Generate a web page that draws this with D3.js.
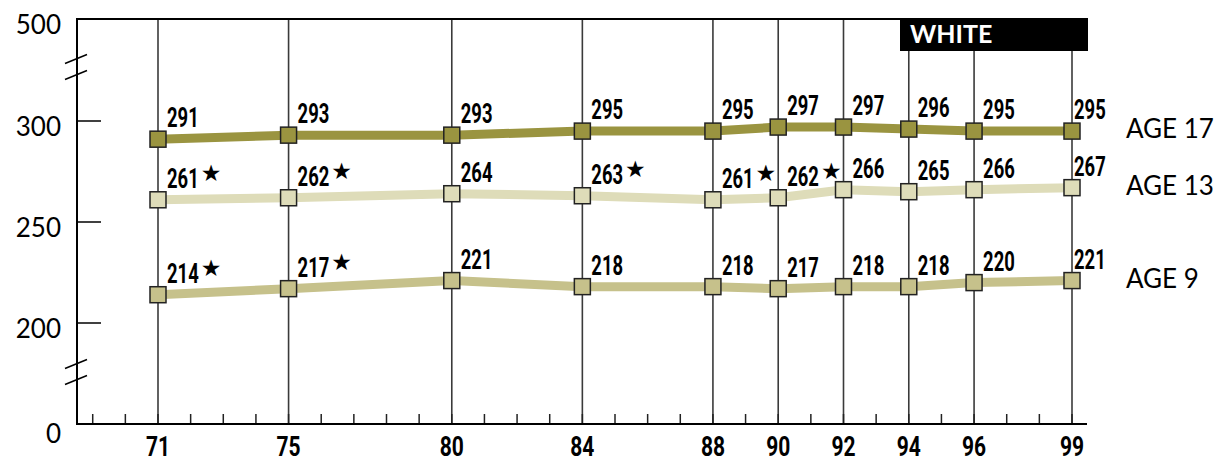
<!DOCTYPE html>
<html><head><meta charset="utf-8">
<script src="https://cdn.jsdelivr.net/npm/d3@7"></script>
<style>body{margin:0;background:#fff}</style></head>
<body><svg id="c" width="1221" height="463"></svg>
<script>
const years=[71,75,80,84,88,90,92,94,96,99];
const age17=[291,293,293,295,295,297,297,296,295,295];
const age13=[261,262,264,263,261,262,266,265,266,267];
const age9=[214,217,221,218,218,217,218,218,220,221];
const star17=[];
const star13=[71,75,84,88,90];
const star9=[71,75];
const seriesNames=["AGE 17","AGE 13","AGE 9"];
const yTickLabels=[0,200,250,300,500];
const yTickMarks=[200,250,300];
const minorYears=d3.range(69,100);
const title="WHITE";

const svg=d3.select("#c");
const x=d3.scaleLinear().domain([71,99]).range([158,1072]);
const y=d3.scaleLinear().domain([0,200,300,500]).range([424,323,121,19]);
const cond='Roboto,"DejaVu Sans",sans-serif';
const geo='Lato,"Noto Sans",sans-serif';

const series=[
 {name:seriesNames[0],vals:age17,stars:star17,fill:"#9a9440",line:"#9a9440"},
 {name:seriesNames[1],vals:age13,stars:star13,fill:"#dedcb9",line:"#dedcb9"},
 {name:seriesNames[2],vals:age9,stars:star9,fill:"#c6c18b",line:"#c6c18b"}
];

// grid verticals
svg.append("g").selectAll("line").data(years).join("line")
 .attr("x1",d=>x(d)).attr("x2",d=>x(d))
 .attr("y1",y(500)).attr("y2",y(0))
 .attr("stroke","#3a3a3a").attr("stroke-width",1.6);

// x axis minor ticks
svg.append("g").selectAll("line").data(minorYears).join("line")
 .attr("x1",d=>x(d)).attr("x2",d=>x(d)).attr("y1",y(0)).attr("y2",y(0)-10)
 .attr("stroke","#222").attr("stroke-width",1.5);
svg.append("line").attr("x1",76).attr("x2",1087).attr("y1",y(0)).attr("y2",y(0))
 .attr("stroke","#000").attr("stroke-width",2);
svg.append("g").selectAll("text").data(years).join("text")
 .attr("transform",d=>`translate(${x(d)},456) scale(0.75,1)`)
 .attr("text-anchor","middle")
 .attr("font-family",cond).attr("font-weight","bold").attr("font-size",28)
 .text(d=>d);

// y axis
svg.append("line").attr("x1",77).attr("x2",77).attr("y1",y(500)).attr("y2",y(0))
 .attr("stroke","#000").attr("stroke-width",2);
svg.append("line").attr("x1",76).attr("x2",900).attr("y1",y(500)).attr("y2",y(500))
 .attr("stroke","#000").attr("stroke-width",2);
svg.append("g").selectAll("line").data(yTickMarks).join("line")
 .attr("x1",77).attr("x2",101).attr("y1",d=>y(d)).attr("y2",d=>y(d))
 .attr("stroke","#000").attr("stroke-width",1.5);
svg.append("g").selectAll("text").data(yTickLabels).join("text")
 .attr("x",61).attr("y",d=>y(d)+(d===0?9:5)).attr("text-anchor","end")
 .attr("dominant-baseline","central")
 .attr("font-family",geo).attr("font-size",26).text(d=>d);

// break marks
function brk(yc){
 [-8,8].forEach(o=>{
  svg.append("line").attr("x1",65).attr("x2",87)
   .attr("y1",yc+o+4.5).attr("y2",yc+o-4.5)
   .attr("stroke","#000").attr("stroke-width",1.5);
 });
}
brk(67); brk(372);

// lines
const line=d3.line().x((d,i)=>x(years[i])).y(d=>y(d));
series.forEach(s=>{
 svg.append("path").datum(s.vals).attr("d",line).attr("fill","none")
  .attr("stroke",s.line).attr("stroke-width",9);
});
// markers and labels
series.forEach(s=>{
 svg.append("g").selectAll("rect").data(s.vals).join("rect")
  .attr("x",(d,i)=>x(years[i])-8).attr("y",d=>y(d)-8)
  .attr("width",16).attr("height",16)
  .attr("fill",s.fill).attr("stroke","#222").attr("stroke-width",1.5);
 s.vals.forEach((v,i)=>{
  const g=svg.append("g").attr("transform",`translate(${x(years[i])+(i===years.length-1?2:9)},${y(v)-12})`);
  const t=g.append("text").attr("transform","scale(0.67,1)")
   .attr("font-family",cond).attr("font-weight","bold").attr("font-size",27.5).text(v);
  if(s.stars.includes(years[i])){
   const w=t.node().getComputedTextLength()*0.67;
   g.append("text").attr("x",w+2).attr("y",-7)
    .attr("font-family","DejaVu Sans").attr("font-size",23).text("★");
  }
 });
 svg.append("text").attr("x",1126).attr("y",y(s.vals[s.vals.length-1])+7)
  .attr("font-family",geo).attr("font-size",26).text(s.name);
});

// title box
svg.append("rect").attr("x",900).attr("y",18).attr("width",188).attr("height",33).attr("fill","#000");
svg.append("text").attr("x",910).attr("y",43).attr("fill","#fff")
 .attr("font-family",geo).attr("font-weight","bold").attr("font-size",25).text(title);
</script></body></html>
